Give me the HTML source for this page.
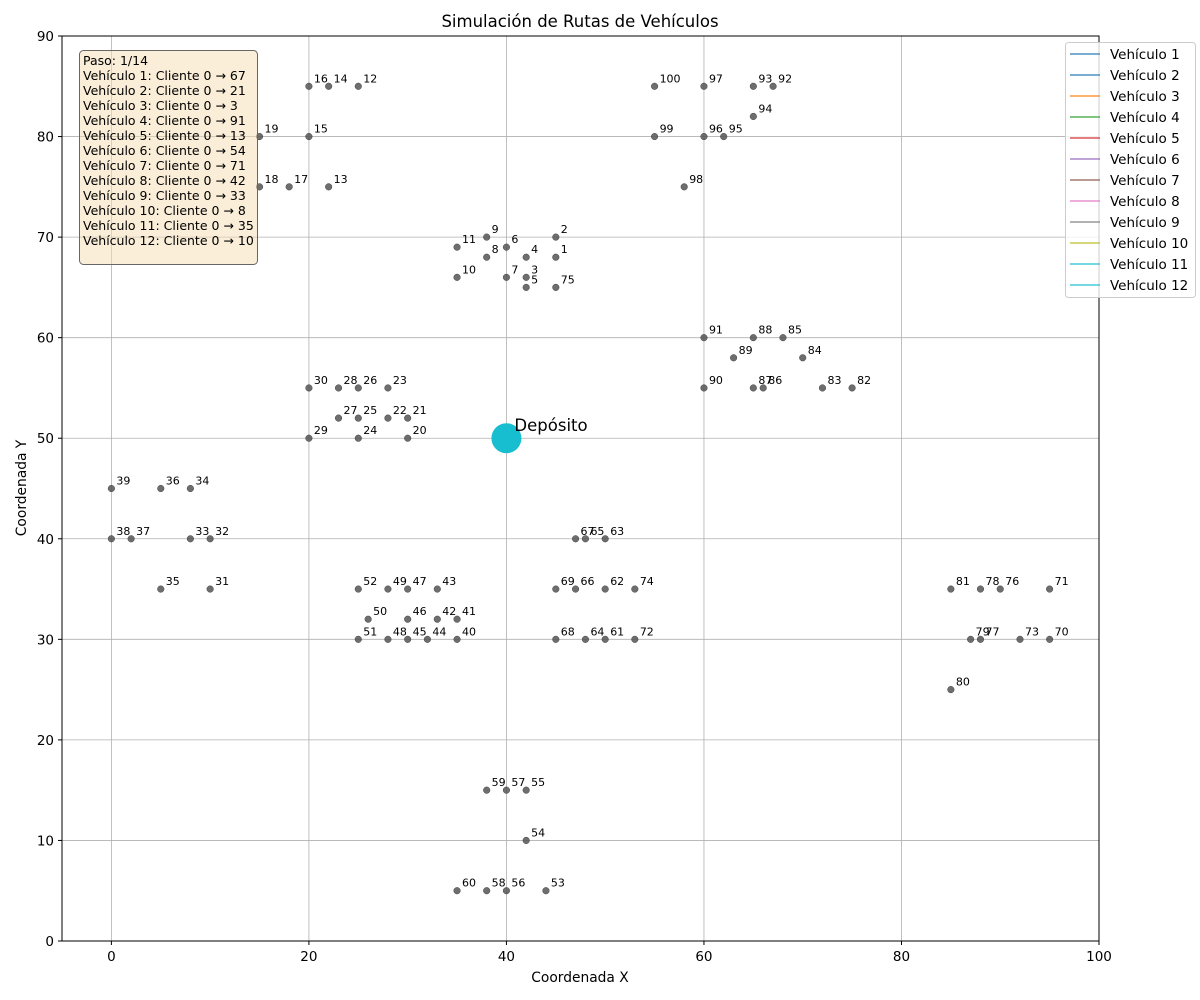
<!DOCTYPE html>
<html><head><meta charset="utf-8"><style>
body{margin:0;background:#fff}
svg{display:block;font-family:"DejaVu Sans","Liberation Sans",sans-serif}
</style></head><body>
<svg id="chart" width="1200" height="1000"></svg>
<script>
const custX=[45,45,42,42,42,40,40,38,38,35,35,25,22,22,20,20,18,15,15,30,30,28,28,25,25,25,23,23,20,20,10,10,8,8,5,5,2,0,0,35,35,33,33,32,30,30,30,28,28,26,25,25,44,42,42,40,40,38,38,35,50,50,50,48,48,47,47,45,45,95,95,53,92,53,45,90,88,88,87,85,85,75,72,70,68,66,65,65,63,60,60,67,65,65,62,60,60,58,55,55];
const custY=[68,70,66,68,65,69,66,68,70,66,69,85,75,85,80,85,75,75,80,50,52,52,55,50,52,55,52,55,50,55,35,40,40,45,35,45,40,40,45,30,32,32,35,30,30,32,35,30,35,32,30,35,5,10,15,5,15,5,15,5,30,35,40,30,40,35,40,30,35,30,35,30,30,35,65,35,30,35,30,25,35,55,55,58,60,55,55,60,58,55,60,85,85,82,80,80,85,75,80,85];
const depot=[40,50];
const xTicks=[0,20,40,60,80,100];
const yTicks=[0,10,20,30,40,50,60,70,80,90];
const vehicles=["Vehículo 1","Vehículo 2","Vehículo 3","Vehículo 4","Vehículo 5","Vehículo 6","Vehículo 7","Vehículo 8","Vehículo 9","Vehículo 10","Vehículo 11","Vehículo 12"];
const vehColors=["#1f77b4","#1f77b4","#ff7f0e","#2ca02c","#d62728","#9467bd","#8c564b","#e377c2","#7f7f7f","#bcbd22","#17becf","#17becf"];
const firstClients=[67,21,3,91,13,54,71,42,33,8,35,10];

const NS="http://www.w3.org/2000/svg";
const svg=document.getElementById('chart');
const L=62,R=1099,T=36,B=941;
const sx=v=>L+(v+5)/105*(R-L);
const sy=v=>B-v/90*(B-T);
function mk(tag,attrs,parent){const e=document.createElementNS(NS,tag);for(const k in attrs)e.setAttribute(k,attrs[k]);(parent||svg).appendChild(e);return e;}

xTicks.forEach(v=>{const l=mk('line',{x1:sx(v),x2:sx(v),y1:T,y2:B,stroke:'#b0b0b0','stroke-width':0.8});

});
yTicks.forEach(v=>{const l=mk('line',{x1:L,x2:R,y1:sy(v),y2:sy(v),stroke:'#b0b0b0','stroke-width':0.8});

});
const fr=mk('rect',{x:L,y:T,width:R-L,height:B-T,fill:'none',stroke:'#000','stroke-width':1});


xTicks.forEach(v=>{mk('line',{x1:sx(v),x2:sx(v),y1:B,y2:B+4,stroke:'#000'});
const t=mk('text',{x:sx(v),y:B+20,'text-anchor':'middle','font-size':13.5});t.textContent=v;

});
yTicks.forEach(v=>{mk('line',{x1:L-4,x2:L,y1:sy(v),y2:sy(v),stroke:'#000'});
const t=mk('text',{x:L-8,y:sy(v)+5,'text-anchor':'end','font-size':13.5});t.textContent=v;

});
custX.forEach((x,i)=>{
const c=mk('circle',{cx:sx(x),cy:sy(custY[i]),r:3.3,fill:'#555','fill-opacity':0.85,stroke:'#444','stroke-width':0.5});


const t=mk('text',{x:sx(x)+5,y:sy(custY[i])-4,'font-size':11});t.textContent=i+1;

});
const d=mk('circle',{cx:sx(depot[0]),cy:sy(depot[1]),r:15,fill:'#17becf'});


const dt=mk('text',{x:sx(depot[0])+8,y:sy(depot[1])-7,'font-size':16.5});dt.textContent='Depósito';


const ti=mk('text',{x:580,y:27,'text-anchor':'middle','font-size':16.5});ti.textContent='Simulación de Rutas de Vehículos';


const xl=mk('text',{x:580,y:982,'text-anchor':'middle','font-size':13.8});xl.textContent='Coordenada X';


const yl=mk('text',{x:26,y:488,'text-anchor':'middle','font-size':13.8,transform:'rotate(-90 26 488)'});yl.textContent='Coordenada Y';


const ib=mk('rect',{x:79.5,y:50.5,width:178,height:214,rx:4,fill:'#f5deb3','fill-opacity':0.5,stroke:'#666'});


const lines=['Paso: 1/14'].concat(vehicles.map((v,i)=>v+': Cliente 0 → '+firstClients[i]));
lines.forEach((s,i)=>{const t=mk('text',{x:83,y:65+i*15,'font-size':12.5});t.textContent=s;

});
const lg=mk('rect',{x:1065.5,y:42.5,width:130,height:255,rx:3,fill:'#fff','fill-opacity':0.8,stroke:'#ccc'});


vehicles.forEach((v,i)=>{const y=54+i*21;
const ln=mk('line',{x1:1070,x2:1100,y1:y,y2:y,stroke:vehColors[i],'stroke-width':2,'stroke-opacity':0.6});


const t=mk('text',{x:1110,y:y+5,'font-size':13.5});t.textContent=v;

});
</script>
</body></html>
